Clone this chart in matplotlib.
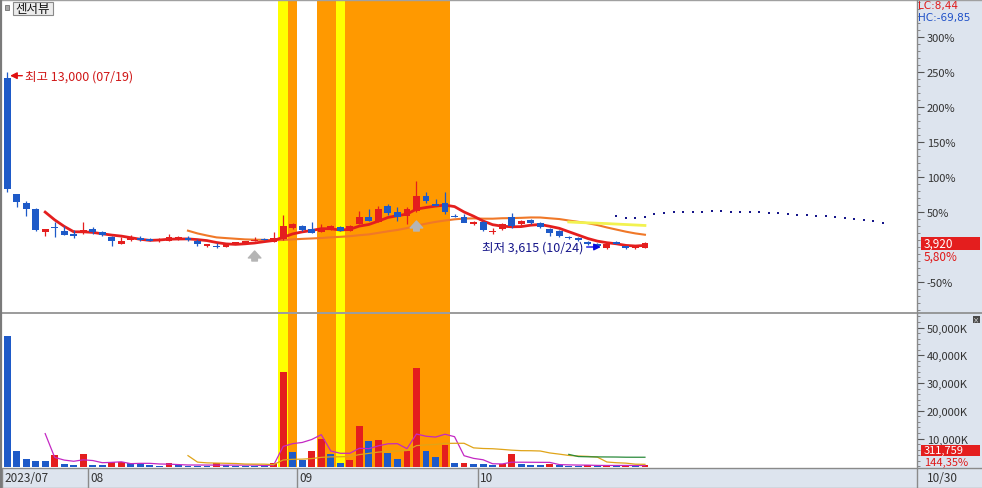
import numpy as np
import pandas as pd
import matplotlib
matplotlib.use("Agg")
import matplotlib.pyplot as plt
from matplotlib.patches import Rectangle
from matplotlib.lines import Line2D
from matplotlib.transforms import offset_copy

plt.rcParams['font.family'] = ['Noto Sans CJK KR', 'DejaVu Sans']

# ---------------- data ----------------
stock_name = "센서뷰"
year = 2023
jul_days = [19, 20, 21, 24, 25, 26, 27, 28, 31]
aug_days = [1, 2, 3, 4, 7, 8, 9, 10, 11, 14, 16, 17, 18, 21, 22, 23, 24, 25, 28, 29, 30, 31]
sep_days = [1, 4, 5, 6, 7, 8, 11, 12, 13, 14, 15, 18, 19, 20, 21, 22, 25, 26, 27]
oct_days = [4, 5, 6, 10, 11, 12, 13, 16, 17, 18, 19, 20, 23, 24, 25, 26, 27, 30]

opens = [12650, 6510, 6034, 5716, 4499, 4737, 4552, 4393, 4446, 4658,
         4499, 4234, 3864, 4076, 4181, 4129, 4023, 4023, 4129, 4181,
         4023, 3758, 3784, 3705, 3917, 3864, 4023, 4129, 3970, 4129,
         4711, 4817, 4658, 4499, 4605, 4764, 4552, 4923, 5293, 5028,
         5875, 5558, 5346, 5610, 6404, 5981, 6034, 5372, 5293, 4923,
         5028, 4526, 4658, 5293, 4923, 5134, 4976, 4658, 4552, 4234,
         4181, 3970, 3864, 3652, 3970, 3758, 3660, 3652]
highs = [13000, 6510, 6140, 5770, 4658, 5028, 4817, 4605, 5028, 4764,
         4552, 4287, 4234, 4340, 4287, 4181, 4181, 4393, 4287, 4287,
         4129, 3864, 3917, 3864, 3970, 4023, 4234, 4181, 4499, 5399,
         4976, 4870, 5028, 4923, 4870, 4817, 4870, 5610, 5716, 5875,
         5981, 5822, 5822, 7198, 6616, 6246, 6616, 5452, 5452, 5081,
         5081, 4711, 4976, 5505, 5134, 5187, 5028, 4711, 4605, 4287,
         4234, 4023, 3917, 3917, 4023, 3800, 3730, 3970]
lows = [6615, 5822, 5346, 4552, 4287, 4234, 4340, 4208, 4393, 4393,
        4287, 3758, 3864, 4023, 4023, 4023, 3970, 4023, 4076, 4023,
        3758, 3705, 3652, 3705, 3864, 3864, 4023, 4076, 3970, 4076,
        4658, 4552, 4446, 4499, 4605, 4552, 4552, 4923, 5081, 5028,
        5399, 5081, 4923, 5558, 6034, 5875, 5452, 5293, 5028, 4870,
        4552, 4393, 4605, 4711, 4870, 4923, 4711, 4287, 4234, 4129,
        4023, 3817, 3705, 3615, 3864, 3640, 3640, 3652]
closes = [6775, 6087, 5716, 4605, 4658, 4711, 4367, 4287, 4605, 4499,
          4340, 4023, 4023, 4181, 4076, 4049, 4129, 4234, 4234, 4102,
          3864, 3864, 3731, 3864, 3970, 4023, 4076, 4076, 4181, 4817,
          4923, 4605, 4446, 4658, 4817, 4552, 4817, 5293, 5081, 5716,
          5505, 5293, 5716, 6404, 6140, 5875, 5558, 5320, 4976, 5028,
          4605, 4578, 4923, 4817, 5081, 4976, 4764, 4446, 4287, 4181,
          4076, 3864, 3758, 3864, 3890, 3652, 3705, 3920]
volumes_k = [47060, 5620, 2630, 1800, 1780, 4180, 830, 470, 4430, 470,
             300, 1440, 1480, 1080, 1040, 300, 280, 1190, 300, 290,
             280, 200, 1080, 300, 290, 280, 270, 260, 1190, 33870,
             5260, 2380, 5620, 9840, 4430, 1190, 2380, 14630, 9120, 9590,
             4790, 2630, 5620, 35530, 5620, 3240, 7780, 1190, 1260, 830,
             720, 610, 800, 4430, 830, 610, 470, 720, 470, 290,
             280, 330, 280, 340, 300, 320, 215.974, 311.759]
ma60_tail = [5046, 5020, 5000, 4980, 4960, 4935, 4910, 4885, 4860]   # 60-day MA, last 9 sessions
forecast = [5346, 5272, 5256, 5293, 5468, 5520, 5558, 5573, 5589, 5589,
            5610, 5610, 5589, 5573, 5558, 5558, 5520, 5505, 5468, 5430,
            5399, 5377, 5346, 5293, 5256, 5187, 5150, 5097, 4991]
forecast_start = 64
warn_yellow = [29, 35]
warn_orange = [30, 33, 34, 36, 37, 38, 39, 40, 41, 42, 43, 44, 45, 46]
signal_idx = [26, 43]
signal_price = [3509, 5097]

# ---------------- derived ----------------
dates = ([(7, d) for d in jul_days] + [(8, d) for d in aug_days] +
         [(9, d) for d in sep_days] + [(10, d) for d in oct_days])
n = len(closes)
idx = np.arange(n)
o = np.array(opens); h = np.array(highs); l = np.array(lows); c = np.array(closes)
v = np.array(volumes_k, dtype=float)
base = closes[-2]

RED = '#e41e1e'
BLUE = '#1e5ac8'
NAVY = '#16168a'
BG_AX = '#dde4ee'
GRID = '#8a8a8a'

W, H = 982, 489
fig = plt.figure(figsize=(W / 100, H / 100), dpi=100)
fig.patch.set_facecolor('white')

def fxp(px):
    return px / W

def fyp(py):
    return 1 - py / H

# right panel & date bar backgrounds
fig.add_artist(Rectangle((fxp(917), 0), (W - 917) / W, 1, transform=fig.transFigure,
                         facecolor=BG_AX, edgecolor='none', zorder=0))
fig.add_artist(Rectangle((0, 0), 1, (H - 469) / H, transform=fig.transFigure,
                         facecolor=BG_AX, edgecolor='none', zorder=0))

slot = 9.52
x0px = 7.1
xlim = ((2 - x0px) / slot, (917 - x0px) / slot)

ax_p = fig.add_axes([fxp(2), fyp(313), 915 / W, 311 / H])
ax_v = fig.add_axes([fxp(2), fyp(468), 915 / W, 153 / H])
ax_d = fig.add_axes([fxp(2), fyp(489), 915 / W, 20 / H])

for ax in (ax_p, ax_v, ax_d):
    ax.set_xlim(*xlim)
    for s in ax.spines.values():
        s.set_visible(False)
    ax.set_xticks([])

# ---------- price panel ----------
ax_p.set_facecolor('white')
zero_px = 248.3
pct_per_px = 50 / 35
p_top = (zero_px - 2) * pct_per_px
p_bot = -(313 - zero_px) * pct_per_px
ax_p.set_ylim(base * (1 + p_bot / 100), base * (1 + p_top / 100))

for i in warn_yellow:
    ax_p.axvspan(i - 0.5, i + 0.5, color='#ffff00', lw=0, zorder=0)
    ax_v.axvspan(i - 0.5, i + 0.5, color='#ffff00', lw=0, zorder=0)
for i in warn_orange:
    ax_p.axvspan(i - 0.5, i + 0.5, color='#ff9900', lw=0, zorder=0)
    ax_v.axvspan(i - 0.5, i + 0.5, color='#ff9900', lw=0, zorder=0)

cols = np.where(c >= o, RED, BLUE)
ax_p.vlines(idx, l, h, colors=cols, lw=0.9, zorder=3)
body = np.maximum(np.abs(c - o), 45)
ax_p.bar(idx, body, bottom=np.minimum(o, c), width=0.72, color=cols, lw=0, zorder=4)

ma5 = pd.Series(c).rolling(5).mean()
ma20 = pd.Series(c).rolling(20).mean()
ax_p.plot(idx, ma20, color='#f07828', lw=1.5, zorder=2)
ax_p.plot(idx, ma5, color=RED, lw=2.0, zorder=2.5)
ax_p.plot(idx[n - len(ma60_tail):], ma60_tail, color='#f2f250', lw=2.0, zorder=2)

fx_idx = np.arange(len(forecast)) + forecast_start
ax_p.plot(fx_idx, forecast, ls='none', marker='s', ms=1.7, mew=0, color=NAVY, zorder=3)

for si, sp in zip(signal_idx, signal_price):
    ax_p.annotate('', xy=(si, sp), xytext=(0, -10), textcoords='offset pixels',
                  arrowprops=dict(arrowstyle='simple,head_width=0.9,head_length=0.5,tail_width=0.4',
                                  color='#b5b5b5', shrinkA=0, shrinkB=0, mutation_scale=10),
                  zorder=3)

hi_i = int(np.argmax(h)); lo_i = int(np.argmin(l))
hi_lbl = f"최고 {h[hi_i]:,} ({dates[hi_i][0]:02d}/{dates[hi_i][1]:02d})"
lo_lbl = f"최저 {l[lo_i]:,} ({dates[lo_i][0]:02d}/{dates[lo_i][1]:02d})"
ax_p.annotate(hi_lbl, xy=(hi_i, h[hi_i]),
              xycoords=offset_copy(ax_p.transData, fig=fig, x=3, y=-4, units='dots'),
              xytext=(15, 0), textcoords='offset pixels', ha='left', va='center',
              fontsize=9, color='#d01818', zorder=6,
              arrowprops=dict(arrowstyle='-|>', color='#e01010', lw=1.0, shrinkA=0, shrinkB=0,
                              mutation_scale=10, relpos=(0, 0.5)))
ax_p.annotate(lo_lbl, xy=(lo_i, l[lo_i]),
              xycoords=offset_copy(ax_p.transData, fig=fig, x=-6, y=2, units='dots'),
              xytext=(-17, 0), textcoords='offset pixels', ha='right', va='center',
              fontsize=9, color=NAVY, zorder=6,
              arrowprops=dict(arrowstyle='-|>', color='#0a0ae0', lw=1.0, shrinkA=0, shrinkB=0,
                              mutation_scale=10, relpos=(1, 0.5)))

pct_ticks = [-50, 50, 100, 150, 200, 250, 300]
ax_p.yaxis.tick_right()
ax_p.set_yticks([base * (1 + p / 100) for p in pct_ticks])
ax_p.set_yticklabels([f"{p}%" for p in pct_ticks])
ax_p.set_yticks([base * (1 + p / 100) for p in range(-90, 351, 10)], minor=True)
ax_p.tick_params(axis='y', which='major', direction='out', length=5, width=0.8,
                 color='#555555', labelsize=8, labelcolor='#333333', pad=2)
ax_p.tick_params(axis='y', which='minor', direction='out', length=2.5, width=0.6, color='#777777')

# ---------- volume panel ----------
ax_v.set_facecolor('white')
v_lo, v_hi = -250, 54880
ax_v.set_ylim(v_lo, v_hi)
vprev = np.concatenate([[np.inf], v[:-1]])
vcols = np.where(v > vprev, RED, BLUE)
ax_v.bar(idx, v - v_lo, bottom=v_lo, width=0.72, color=vcols, lw=0, zorder=3)
vs = pd.Series(v)
ax_v.plot(idx, vs.rolling(5).mean(), color='#c428c4', lw=0.9, zorder=4)
ax_v.plot(idx, vs.rolling(20).mean(), color='#e0a418', lw=0.9, zorder=4)
ax_v.plot(idx, vs.rolling(60).mean(), color='#2a8a3a', lw=0.9, zorder=4)
vt = [10000, 20000, 30000, 40000, 50000]
ax_v.yaxis.tick_right()
ax_v.set_yticks(vt)
ax_v.set_yticklabels([f"{t:,}K" for t in vt])
ax_v.set_yticks(range(0, 54001, 2000), minor=True)
ax_v.tick_params(axis='y', which='major', direction='out', length=5, width=0.8,
                 color='#555555', labelsize=8, labelcolor='#333333', pad=2)
ax_v.tick_params(axis='y', which='minor', direction='out', length=2.5, width=0.6, color='#777777')

# ---------- date bar ----------
ax_d.set_facecolor(BG_AX)
ax_d.set_ylim(0, 1)
ax_d.set_yticks([])
for i in range(n):
    if i == 0 or dates[i][0] != dates[i - 1][0]:
        xs = i - 0.5
        ax_d.axvline(xs, color=GRID, lw=1)
        lbl = f"{year}/{dates[i][0]:02d}" if i == 0 else f"{dates[i][0]:02d}"
        ax_d.annotate(lbl, xy=(xs, 0.5), xytext=(2, 0), textcoords='offset pixels',
                      ha='left', va='center', fontsize=8.5, color='#333333')
fig.text(fxp(927), fyp(479), f"{dates[-1][0]:02d}/{dates[-1][1]:02d}", ha='left', va='center',
         fontsize=8.5, color='#333333')

# ---------- right panel labels ----------
def fmt2(x):
    return f"{x:.2f}".replace('.', ',')

lc = (c[-1] - l[lo_i]) / l[lo_i] * 100
hc = (c[-1] - h[hi_i]) / h[hi_i] * 100
fig.text(fxp(918), fyp(6.5), f"LC:{fmt2(lc)}", ha='left', va='center', fontsize=7.5,
         color='#e01818', family='DejaVu Sans')
fig.text(fxp(918), fyp(18.5), f"HC:{fmt2(hc)}", ha='left', va='center', fontsize=7.5,
         color='#1e50c8', family='DejaVu Sans')

fig.canvas.draw()
inv = fig.transFigure.inverted()
yp = inv.transform(ax_p.transData.transform((0, c[-1])))[1]
box_h = 13 / H
fig.add_artist(Rectangle((fxp(921), yp - box_h / 2), (980 - 921) / W, box_h,
                         transform=fig.transFigure, facecolor='#e41e1e', edgecolor='none', zorder=5))
fig.text(fxp(924), yp, f"{closes[-1]:,}", ha='left', va='center', fontsize=8.5, color='white', zorder=6)
fig.text(fxp(924), yp - 12.5 / H, f"{fmt2((c[-1] / base - 1) * 100)}%", ha='left', va='center',
         fontsize=8.5, color='#e01818', zorder=6)

vbox_h = 11 / H
yv = inv.transform(ax_v.transData.transform((0, v[-1])))[1]
yv = max(yv, fyp(468 - 17))
fig.add_artist(Rectangle((fxp(921), yv - vbox_h / 2), (980 - 921) / W, vbox_h,
                         transform=fig.transFigure, facecolor='#e41e1e', edgecolor='none', zorder=5))
fig.text(fxp(924), yv, f"{int(round(v[-1] * 1000)):,}", ha='left', va='center', fontsize=8,
         color='white', zorder=6)
fig.text(fxp(924), yv - 11.5 / H, f"{fmt2(v[-1] / v[-2] * 100)}%", ha='left', va='center',
         fontsize=8, color='#e01818', zorder=6)

# ---------- header button ----------
fig.add_artist(Rectangle((fxp(5), fyp(11)), 4 / W, 5 / H, transform=fig.transFigure,
                         facecolor='#a8a8a8', edgecolor='#707070', lw=0.6, zorder=6))
fig.add_artist(Rectangle((fxp(13), fyp(16)), 40 / W, 13.5 / H, transform=fig.transFigure,
                         facecolor='#ececec', edgecolor='#8a8a8a', lw=0.8, zorder=6))
fig.text(fxp(33), fyp(9.5), stock_name, ha='center', va='center', fontsize=9, color='#111111', zorder=7)

# close button on volume panel
fig.add_artist(Rectangle((fxp(973), fyp(324)), 7 / W, 7 / H, transform=fig.transFigure,
                         facecolor='#4a4a4a', edgecolor='none', zorder=6))
fig.text(fxp(976.5), fyp(320.5), "×", ha='center', va='center', fontsize=4.5, color='white', zorder=7)

# ---------- borders ----------
def hline(py, x1=0, x2=W, color=GRID, lw=1.0):
    fig.add_artist(Line2D([fxp(x1), fxp(x2)], [fyp(py), fyp(py)], transform=fig.transFigure,
                          color=color, lw=lw, zorder=8))

def vline(px, y1=0, y2=H, color=GRID, lw=1.0):
    fig.add_artist(Line2D([fxp(px), fxp(px)], [fyp(y1), fyp(y2)], transform=fig.transFigure,
                          color=color, lw=lw, zorder=8))

hline(0.5, color='#a0a0a0')
hline(314, lw=1.2)
hline(469)
hline(488.5, color='#a0a0a0')
vline(1, lw=1.6, color='#7a7a7a')
vline(917)

fig.savefig('out.png', dpi=100, facecolor='white')
